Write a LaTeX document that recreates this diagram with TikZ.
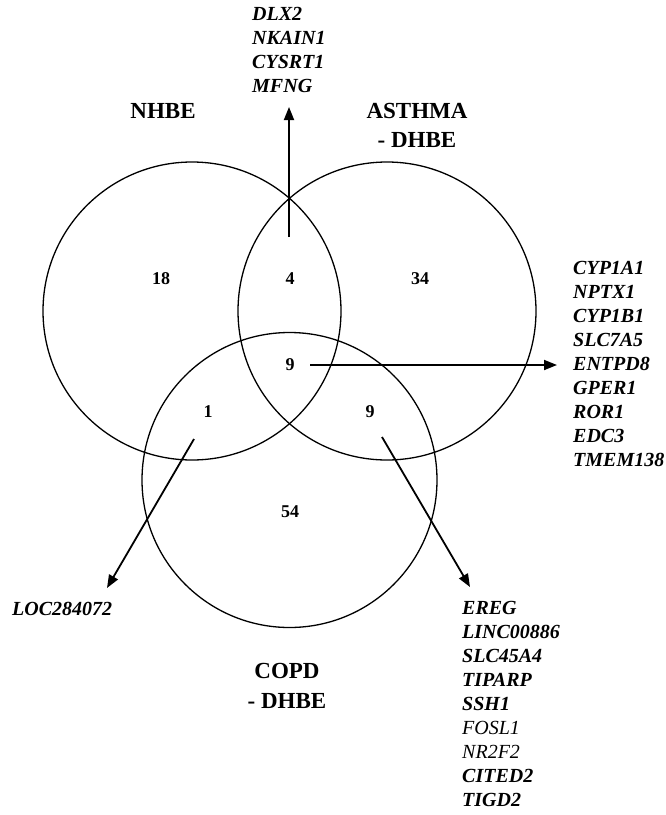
\documentclass[tikz,border=0pt]{standalone}
\usepackage{fontspec}
\setmainfont{Liberation Serif}
\usetikzlibrary{arrows.meta}
\begin{document}
\begin{tikzpicture}[x=1pt,y=-1pt,
  venn/.style={line width=1.3pt},
  conn/.style={line width=1.8pt,-{Triangle[length=13pt,width=10pt]}},
  gene/.style={anchor=base west,inner sep=0pt,font=\fontsize{20}{24}\selectfont\bfseries\itshape},
  genel/.style={anchor=base west,inner sep=0pt,font=\fontsize{20}{24}\selectfont\itshape},
  head/.style={anchor=base,inner sep=0pt,font=\fontsize{23}{28}\selectfont\bfseries},
  num/.style={inner sep=0pt,font=\fontsize{18}{20}\selectfont\bfseries}]
\useasboundingbox (0,0) rectangle (666,815);
% circles
\draw[venn] (192,311) circle (149);
\draw[venn] (387,311) circle (149);
\draw[venn] (289.5,480) circle (147.5);
% numbers
\node[num] (n18) at (161,279) {18};
\node[num] (n4) at (290,279) {4};
\node[num] (n34) at (420,279) {34};
\node[num] (n9c) at (290,365) {9};
\node[num] (n1) at (208,412) {1};
\node[num] (n9r) at (370,412) {9};
\node[num] (n54) at (290,512) {54};
% headings
\node[head] (hn) at (163,118) {NHBE};
\node[head] (ha1) at (417,118) {ASTHMA};
\node[head] (ha2) at (417,147) {- DHBE};
\node[head] (hc1) at (287,678) {COPD};
\node[head] (hc2) at (287,708) {- DHBE};
% gene lists
\node[gene] (u1) at (252,20) {DLX2};
\node[gene] (u2) at (252,44) {NKAIN1};
\node[gene] (u3) at (252,68) {CYSRT1};
\node[gene] (u4) at (252,92) {MFNG};
\foreach \g [count=\i from 0] in {CYP1A1,NPTX1,CYP1B1,SLC7A5,ENTPD8,GPER1,ROR1,EDC3,TMEM138}
  \node[gene] (r\i) at (573,{274+24*\i}) {\g};
\node[gene] (loc) at (12,615) {LOC284072};
\node[gene] (b0) at (462,614) {EREG};
\node[gene] (b1) at (462,638) {LINC00886};
\node[gene] (b2) at (462,662) {SLC45A4};
\node[gene] (b3) at (462,686) {TIPARP};
\node[gene] (b4) at (462,710) {SSH1};
\node[genel] (b5) at (462,734) {FOSL1};
\node[genel] (b6) at (462,758) {NR2F2};
\node[gene] (b7) at (462,782) {CITED2};
\node[gene] (b8) at (462,806) {TIGD2};
% arrow end points
\coordinate (s4) at (289,237);
\coordinate (t4) at (289,107);
\coordinate (s9c) at (310,365);
\coordinate (t9c) at (557,365);
\coordinate (s1) at (194,439);
\coordinate (t1) at (107,588);
\coordinate (s9r) at (382,437);
\coordinate (t9r) at (470,587);
\draw[conn] (s4) -- (t4);
\draw[conn] (s9c) -- (t9c);
\draw[conn] (s1) -- (t1);
\draw[conn] (s9r) -- (t9r);
\end{tikzpicture}
\end{document}
